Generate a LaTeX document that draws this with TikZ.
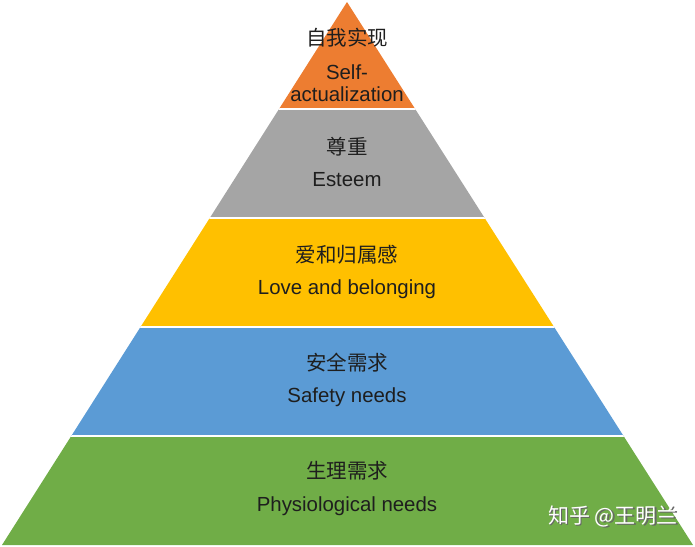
\documentclass[tikz,border=0pt]{standalone}
\usepackage{fontspec}
\setmainfont{Liberation Sans}
\newfontfamily\cjk{Noto Sans CJK SC}
\definecolor{lvA}{HTML}{ED7D31}
\definecolor{lvB}{HTML}{A5A5A5}
\definecolor{lvC}{HTML}{FFC000}
\definecolor{lvD}{HTML}{5B9BD5}
\definecolor{lvE}{HTML}{70AD47}
\definecolor{txt}{HTML}{1E1E1E}
\begin{document}
\begin{tikzpicture}[x=1pt,y=-1pt,
  zh/.style={font=\cjk\fontsize{20.5}{24}\selectfont, text=txt, inner sep=0pt},
  en/.style={font=\fontsize{20.4}{22}\selectfont, text=txt, inner sep=0pt, align=center},
  gap/.style={draw=white, line width=2pt}]
\useasboundingbox (0,0) rectangle (695,546);
\begin{scope}
\clip (347,2) -- (2,545) -- (693,545) -- cycle;
\fill[lvA] (0,0) rectangle (695,109);
\fill[lvB] (0,109) rectangle (695,218);
\fill[lvC] (0,218) rectangle (695,327);
\fill[lvD] (0,327) rectangle (695,436);
\fill[lvE] (0,436) rectangle (695,546);
\draw[gap] (0,109) -- (695,109);
\draw[gap] (0,218) -- (695,218);
\draw[gap] (0,327) -- (695,327);
\draw[gap] (0,436) -- (695,436);
\end{scope}
\node[zh] (z1) at (347,38) {自我实现};
\node[en] (e1a) at (347,72) {Self-};
\node[en] (e1b) at (347,94) {actualization};
\node[zh] (z2) at (347,147) {尊重};
\node[en] (e2) at (347,180) {Esteem};
\node[zh] (z3) at (347,255) {爱和归属感};
\node[en] (e3) at (347,289) {Love and belonging};
\node[zh] (z4) at (347,363) {安全需求};
\node[en] (e4) at (347,397) {Safety needs};
\node[zh] (z5) at (347,471) {生理需求};
\node[en] (e5) at (347,506) {Physiological needs};
\node[font=\cjk\fontsize{21}{24}\selectfont, text=black!60, inner sep=0pt] at (614.5,517.5) {知乎 @王明兰};
\node[font=\cjk\fontsize{21}{24}\selectfont, text=white, inner sep=0pt] (wm) at (613,516) {知乎 @王明兰};
\end{tikzpicture}
\end{document}
